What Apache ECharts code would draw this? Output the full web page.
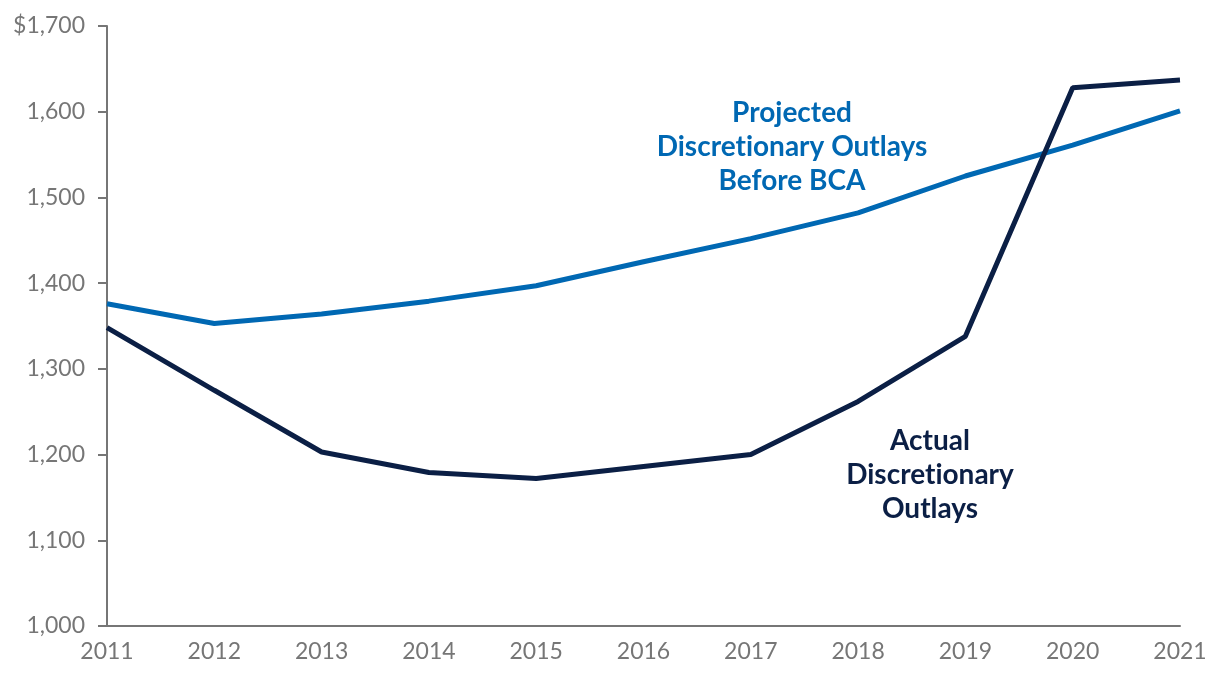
<!DOCTYPE html>
<html>
<head>
<meta charset="utf-8">
<script src="https://cdn.jsdelivr.net/npm/echarts@6/dist/echarts.min.js"></script>
<style>html,body{margin:0;padding:0;background:#fff}#c{width:1220px;height:678px}</style>
</head>
<body>
<div id="c"></div>
<script>
const years = ['2011','2012','2013','2014','2015','2016','2017','2018','2019','2020','2021'];
const projected = [1376, 1353, 1364, 1379, 1397, 1425, 1452, 1482, 1525, 1561, 1601];
const actual = [1348, 1275, 1203, 1179, 1172, 1186, 1200, 1262, 1338, 1628, 1637];
const projLabel = 'Projected\nDiscret\u200Cionary Outlays\nBefore BCA';
const actLabel = 'Actual\nDiscret\u200Cionary\nOutlays';

const chart = echarts.init(document.getElementById('c'));
const axisColor = '#767676';
chart.setOption({
  animation: false,
  grid: {left: 107, right: 40, top: 26, bottom: 52},
  xAxis: {
    type: 'category', data: years, boundaryGap: false,
    axisLine: {lineStyle: {color: axisColor, width: 2}},
    axisTick: {show: false},
    axisLabel: {color: axisColor, fontFamily: 'Lato', fontSize: 23, margin: 14}
  },
  yAxis: {
    type: 'value', min: 1000, max: 1700, interval: 100,
    axisLine: {show: true, lineStyle: {color: axisColor, width: 2}},
    axisTick: {show: true, length: 9, lineStyle: {color: axisColor, width: 2}},
    splitLine: {show: false},
    axisLabel: {color: axisColor, fontFamily: 'Lato', fontSize: 23, margin: 22,
      formatter: v => (v === 1700 ? '$' : '') + v.toLocaleString('en-US')}
  },
  series: [
    {type: 'line', data: projected, symbol: 'none', lineStyle: {color: '#0068b3', width: 5}},
    {type: 'line', data: actual, symbol: 'none', lineStyle: {color: '#0b1f45', width: 5}}
  ],
  graphic: [
    {type: 'text', x: 792, y: 96, style: {text: projLabel, align: 'center', verticalAlign: 'top', fill: '#0068b3', font: 'bold 28px Lato', lineHeight: 34}},
    {type: 'text', x: 930, y: 424, style: {text: actLabel, align: 'center', verticalAlign: 'top', fill: '#0b1f45', font: 'bold 28px Lato', lineHeight: 34}}
  ]
});
</script>
</body>
</html>
